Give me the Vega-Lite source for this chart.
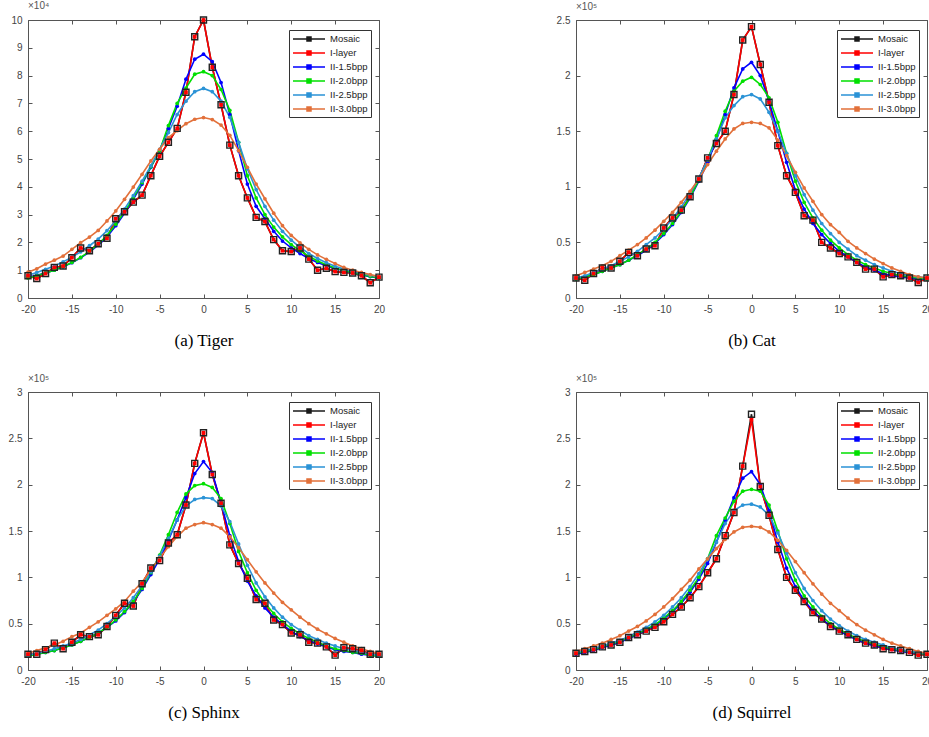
{
"$schema":"https://vega.github.io/schema/vega-lite/v6.json",
"padding":{"left":7,"top":0,"right":0,"bottom":0},
"bounds":"flush",
"columns":2,
"spacing":{"column":197,"row":94},
"datasets":{"d":[
{"p":"a","x":-20,"M":0.8,"I":0.8,"B15":0.75,"B20":0.72,"B25":0.82,"B30":0.93},
{"p":"a","x":-19,"M":0.7,"I":0.7,"B15":0.82,"B20":0.8,"B25":0.92,"B30":1.05},
{"p":"a","x":-18,"M":0.88,"I":0.88,"B15":0.9,"B20":0.9,"B25":1.03,"B30":1.22},
{"p":"a","x":-17,"M":1.1,"I":1.1,"B15":1.0,"B20":1.0,"B25":1.15,"B30":1.36},
{"p":"a","x":-16,"M":1.15,"I":1.15,"B15":1.12,"B20":1.13,"B25":1.3,"B30":1.51},
{"p":"a","x":-15,"M":1.45,"I":1.45,"B15":1.27,"B20":1.28,"B25":1.47,"B30":1.75},
{"p":"a","x":-14,"M":1.8,"I":1.8,"B15":1.45,"B20":1.46,"B25":1.66,"B30":1.99},
{"p":"a","x":-13,"M":1.7,"I":1.7,"B15":1.65,"B20":1.68,"B25":1.88,"B30":2.19},
{"p":"a","x":-12,"M":1.95,"I":1.95,"B15":1.9,"B20":1.94,"B25":2.12,"B30":2.43},
{"p":"a","x":-11,"M":2.15,"I":2.15,"B15":2.2,"B20":2.25,"B25":2.42,"B30":2.77},
{"p":"a","x":-10,"M":2.85,"I":2.85,"B15":2.6,"B20":2.65,"B25":2.78,"B30":3.13},
{"p":"a","x":-9,"M":3.1,"I":3.1,"B15":3.05,"B20":3.1,"B25":3.2,"B30":3.55},
{"p":"a","x":-8,"M":3.45,"I":3.45,"B15":3.55,"B20":3.6,"B25":3.68,"B30":3.99},
{"p":"a","x":-7,"M":3.7,"I":3.7,"B15":4.1,"B20":4.15,"B25":4.2,"B30":4.45},
{"p":"a","x":-6,"M":4.4,"I":4.4,"B15":4.7,"B20":4.72,"B25":4.75,"B30":4.93},
{"p":"a","x":-5,"M":5.1,"I":5.1,"B15":5.3,"B20":5.3,"B25":5.35,"B30":5.35},
{"p":"a","x":-4,"M":5.6,"I":5.6,"B15":6.1,"B20":6.2,"B25":5.95,"B30":5.77},
{"p":"a","x":-3,"M":6.1,"I":6.1,"B15":6.9,"B20":7.0,"B25":6.6,"B30":6.02},
{"p":"a","x":-2,"M":7.4,"I":7.4,"B15":7.87,"B20":7.55,"B25":7.08,"B30":6.27},
{"p":"a","x":-1,"M":9.4,"I":9.4,"B15":8.59,"B20":8.05,"B25":7.42,"B30":6.43},
{"p":"a","x":0,"M":10.0,"I":10.0,"B15":8.77,"B20":8.14,"B25":7.54,"B30":6.49},
{"p":"a","x":1,"M":8.3,"I":8.3,"B15":8.5,"B20":8.0,"B25":7.42,"B30":6.42},
{"p":"a","x":2,"M":6.95,"I":6.95,"B15":7.75,"B20":7.5,"B25":7.08,"B30":6.22},
{"p":"a","x":3,"M":5.5,"I":5.5,"B15":6.6,"B20":6.75,"B25":6.5,"B30":5.85},
{"p":"a","x":4,"M":4.4,"I":4.4,"B15":5.3,"B20":5.6,"B25":5.6,"B30":5.3},
{"p":"a","x":5,"M":3.6,"I":3.6,"B15":4.1,"B20":4.4,"B25":4.65,"B30":4.7},
{"p":"a","x":6,"M":2.9,"I":2.9,"B15":3.3,"B20":3.6,"B25":3.9,"B30":4.1},
{"p":"a","x":7,"M":2.75,"I":2.75,"B15":2.85,"B20":3.0,"B25":3.3,"B30":3.57},
{"p":"a","x":8,"M":2.1,"I":2.1,"B15":2.4,"B20":2.55,"B25":2.8,"B30":3.05},
{"p":"a","x":9,"M":1.7,"I":1.7,"B15":2.05,"B20":2.2,"B25":2.4,"B30":2.6},
{"p":"a","x":10,"M":1.67,"I":1.67,"B15":1.8,"B20":1.92,"B25":2.08,"B30":2.25},
{"p":"a","x":11,"M":1.8,"I":1.8,"B15":1.6,"B20":1.7,"B25":1.82,"B30":1.98},
{"p":"a","x":12,"M":1.4,"I":1.4,"B15":1.42,"B20":1.5,"B25":1.6,"B30":1.75},
{"p":"a","x":13,"M":1.0,"I":1.0,"B15":1.28,"B20":1.33,"B25":1.42,"B30":1.55},
{"p":"a","x":14,"M":1.07,"I":1.07,"B15":1.16,"B20":1.2,"B25":1.27,"B30":1.39},
{"p":"a","x":15,"M":0.95,"I":0.95,"B15":1.06,"B20":1.08,"B25":1.14,"B30":1.24},
{"p":"a","x":16,"M":0.92,"I":0.92,"B15":0.98,"B20":0.99,"B25":1.04,"B30":1.1},
{"p":"a","x":17,"M":0.9,"I":0.9,"B15":0.9,"B20":0.91,"B25":0.95,"B30":1.0},
{"p":"a","x":18,"M":0.8,"I":0.8,"B15":0.83,"B20":0.84,"B25":0.88,"B30":0.92},
{"p":"a","x":19,"M":0.55,"I":0.55,"B15":0.77,"B20":0.78,"B25":0.82,"B30":0.84},
{"p":"a","x":20,"M":0.75,"I":0.75,"B15":0.72,"B20":0.72,"B25":0.76,"B30":0.77},
{"p":"b","x":-20,"M":0.18,"I":0.18,"B15":0.17,"B20":0.17,"B25":0.18,"B30":0.2},
{"p":"b","x":-19,"M":0.16,"I":0.16,"B15":0.19,"B20":0.19,"B25":0.2,"B30":0.23},
{"p":"b","x":-18,"M":0.22,"I":0.22,"B15":0.21,"B20":0.21,"B25":0.23,"B30":0.26},
{"p":"b","x":-17,"M":0.27,"I":0.27,"B15":0.24,"B20":0.24,"B25":0.26,"B30":0.29},
{"p":"b","x":-16,"M":0.27,"I":0.27,"B15":0.27,"B20":0.27,"B25":0.29,"B30":0.33},
{"p":"b","x":-15,"M":0.33,"I":0.33,"B15":0.3,"B20":0.3,"B25":0.33,"B30":0.38},
{"p":"b","x":-14,"M":0.41,"I":0.41,"B15":0.34,"B20":0.34,"B25":0.37,"B30":0.43},
{"p":"b","x":-13,"M":0.38,"I":0.38,"B15":0.38,"B20":0.39,"B25":0.42,"B30":0.48},
{"p":"b","x":-12,"M":0.44,"I":0.44,"B15":0.43,"B20":0.44,"B25":0.48,"B30":0.54},
{"p":"b","x":-11,"M":0.47,"I":0.47,"B15":0.49,"B20":0.5,"B25":0.54,"B30":0.61},
{"p":"b","x":-10,"M":0.63,"I":0.63,"B15":0.57,"B20":0.58,"B25":0.62,"B30":0.69},
{"p":"b","x":-9,"M":0.72,"I":0.72,"B15":0.66,"B20":0.67,"B25":0.71,"B30":0.77},
{"p":"b","x":-8,"M":0.79,"I":0.79,"B15":0.77,"B20":0.78,"B25":0.82,"B30":0.86},
{"p":"b","x":-7,"M":0.91,"I":0.91,"B15":0.9,"B20":0.91,"B25":0.94,"B30":0.96},
{"p":"b","x":-6,"M":1.07,"I":1.07,"B15":1.05,"B20":1.06,"B25":1.08,"B30":1.07},
{"p":"b","x":-5,"M":1.26,"I":1.26,"B15":1.22,"B20":1.24,"B25":1.24,"B30":1.2},
{"p":"b","x":-4,"M":1.39,"I":1.39,"B15":1.42,"B20":1.46,"B25":1.43,"B30":1.32},
{"p":"b","x":-3,"M":1.5,"I":1.5,"B15":1.65,"B20":1.68,"B25":1.62,"B30":1.43},
{"p":"b","x":-2,"M":1.83,"I":1.83,"B15":1.89,"B20":1.86,"B25":1.73,"B30":1.52},
{"p":"b","x":-1,"M":2.32,"I":2.32,"B15":2.06,"B20":1.95,"B25":1.81,"B30":1.57},
{"p":"b","x":0,"M":2.44,"I":2.44,"B15":2.12,"B20":1.985,"B25":1.83,"B30":1.58},
{"p":"b","x":1,"M":2.1,"I":2.1,"B15":2.0,"B20":1.92,"B25":1.79,"B30":1.57},
{"p":"b","x":2,"M":1.76,"I":1.76,"B15":1.77,"B20":1.8,"B25":1.67,"B30":1.53},
{"p":"b","x":3,"M":1.37,"I":1.37,"B15":1.5,"B20":1.58,"B25":1.5,"B30":1.42},
{"p":"b","x":4,"M":1.1,"I":1.1,"B15":1.22,"B20":1.3,"B25":1.3,"B30":1.28},
{"p":"b","x":5,"M":0.95,"I":0.95,"B15":0.97,"B20":1.05,"B25":1.1,"B30":1.13},
{"p":"b","x":6,"M":0.74,"I":0.74,"B15":0.8,"B20":0.86,"B25":0.93,"B30":0.99},
{"p":"b","x":7,"M":0.7,"I":0.7,"B15":0.67,"B20":0.72,"B25":0.79,"B30":0.87},
{"p":"b","x":8,"M":0.5,"I":0.5,"B15":0.57,"B20":0.61,"B25":0.67,"B30":0.75},
{"p":"b","x":9,"M":0.45,"I":0.45,"B15":0.49,"B20":0.52,"B25":0.58,"B30":0.66},
{"p":"b","x":10,"M":0.4,"I":0.4,"B15":0.42,"B20":0.45,"B25":0.5,"B30":0.59},
{"p":"b","x":11,"M":0.37,"I":0.37,"B15":0.37,"B20":0.39,"B25":0.44,"B30":0.51},
{"p":"b","x":12,"M":0.32,"I":0.32,"B15":0.32,"B20":0.34,"B25":0.38,"B30":0.45},
{"p":"b","x":13,"M":0.26,"I":0.26,"B15":0.28,"B20":0.3,"B25":0.34,"B30":0.4},
{"p":"b","x":14,"M":0.26,"I":0.26,"B15":0.25,"B20":0.27,"B25":0.3,"B30":0.35},
{"p":"b","x":15,"M":0.19,"I":0.19,"B15":0.22,"B20":0.24,"B25":0.27,"B30":0.31},
{"p":"b","x":16,"M":0.21,"I":0.21,"B15":0.2,"B20":0.22,"B25":0.24,"B30":0.27},
{"p":"b","x":17,"M":0.2,"I":0.2,"B15":0.19,"B20":0.2,"B25":0.22,"B30":0.24},
{"p":"b","x":18,"M":0.18,"I":0.18,"B15":0.18,"B20":0.19,"B25":0.2,"B30":0.21},
{"p":"b","x":19,"M":0.14,"I":0.14,"B15":0.17,"B20":0.18,"B25":0.19,"B30":0.19},
{"p":"b","x":20,"M":0.18,"I":0.18,"B15":0.17,"B20":0.17,"B25":0.18,"B30":0.18},
{"p":"c","x":-20,"M":0.17,"I":0.17,"B15":0.15,"B20":0.15,"B25":0.16,"B30":0.18},
{"p":"c","x":-19,"M":0.17,"I":0.17,"B15":0.17,"B20":0.17,"B25":0.18,"B30":0.21},
{"p":"c","x":-18,"M":0.22,"I":0.22,"B15":0.19,"B20":0.19,"B25":0.2,"B30":0.24},
{"p":"c","x":-17,"M":0.29,"I":0.29,"B15":0.21,"B20":0.21,"B25":0.23,"B30":0.27},
{"p":"c","x":-16,"M":0.23,"I":0.23,"B15":0.24,"B20":0.24,"B25":0.26,"B30":0.31},
{"p":"c","x":-15,"M":0.3,"I":0.3,"B15":0.27,"B20":0.27,"B25":0.29,"B30":0.36},
{"p":"c","x":-14,"M":0.38,"I":0.38,"B15":0.31,"B20":0.31,"B25":0.33,"B30":0.4},
{"p":"c","x":-13,"M":0.36,"I":0.36,"B15":0.35,"B20":0.35,"B25":0.38,"B30":0.46},
{"p":"c","x":-12,"M":0.38,"I":0.38,"B15":0.4,"B20":0.4,"B25":0.43,"B30":0.52},
{"p":"c","x":-11,"M":0.47,"I":0.47,"B15":0.46,"B20":0.46,"B25":0.5,"B30":0.59},
{"p":"c","x":-10,"M":0.59,"I":0.59,"B15":0.53,"B20":0.54,"B25":0.58,"B30":0.66},
{"p":"c","x":-9,"M":0.72,"I":0.72,"B15":0.62,"B20":0.63,"B25":0.67,"B30":0.74},
{"p":"c","x":-8,"M":0.69,"I":0.69,"B15":0.73,"B20":0.74,"B25":0.78,"B30":0.85},
{"p":"c","x":-7,"M":0.93,"I":0.93,"B15":0.87,"B20":0.88,"B25":0.91,"B30":0.95},
{"p":"c","x":-6,"M":1.1,"I":1.1,"B15":1.03,"B20":1.05,"B25":1.06,"B30":1.08},
{"p":"c","x":-5,"M":1.18,"I":1.18,"B15":1.2,"B20":1.24,"B25":1.23,"B30":1.21},
{"p":"c","x":-4,"M":1.37,"I":1.37,"B15":1.4,"B20":1.46,"B25":1.42,"B30":1.33},
{"p":"c","x":-3,"M":1.46,"I":1.46,"B15":1.62,"B20":1.7,"B25":1.62,"B30":1.44},
{"p":"c","x":-2,"M":1.78,"I":1.78,"B15":1.86,"B20":1.9,"B25":1.77,"B30":1.53},
{"p":"c","x":-1,"M":2.23,"I":2.23,"B15":2.12,"B20":1.99,"B25":1.84,"B30":1.57},
{"p":"c","x":0,"M":2.56,"I":2.56,"B15":2.25,"B20":2.01,"B25":1.86,"B30":1.59},
{"p":"c","x":1,"M":2.11,"I":2.11,"B15":2.13,"B20":1.97,"B25":1.85,"B30":1.57},
{"p":"c","x":2,"M":1.8,"I":1.8,"B15":1.8,"B20":1.85,"B25":1.77,"B30":1.53},
{"p":"c","x":3,"M":1.35,"I":1.35,"B15":1.45,"B20":1.58,"B25":1.6,"B30":1.44},
{"p":"c","x":4,"M":1.15,"I":1.15,"B15":1.17,"B20":1.28,"B25":1.36,"B30":1.32},
{"p":"c","x":5,"M":0.99,"I":0.99,"B15":0.96,"B20":1.05,"B25":1.13,"B30":1.19},
{"p":"c","x":6,"M":0.76,"I":0.76,"B15":0.8,"B20":0.86,"B25":0.94,"B30":1.06},
{"p":"c","x":7,"M":0.72,"I":0.72,"B15":0.67,"B20":0.72,"B25":0.79,"B30":0.94},
{"p":"c","x":8,"M":0.54,"I":0.54,"B15":0.57,"B20":0.61,"B25":0.67,"B30":0.83},
{"p":"c","x":9,"M":0.49,"I":0.49,"B15":0.49,"B20":0.52,"B25":0.57,"B30":0.73},
{"p":"c","x":10,"M":0.4,"I":0.4,"B15":0.42,"B20":0.45,"B25":0.49,"B30":0.65},
{"p":"c","x":11,"M":0.38,"I":0.38,"B15":0.36,"B20":0.39,"B25":0.43,"B30":0.57},
{"p":"c","x":12,"M":0.3,"I":0.3,"B15":0.32,"B20":0.34,"B25":0.37,"B30":0.5},
{"p":"c","x":13,"M":0.29,"I":0.29,"B15":0.28,"B20":0.3,"B25":0.33,"B30":0.44},
{"p":"c","x":14,"M":0.25,"I":0.25,"B15":0.25,"B20":0.26,"B25":0.29,"B30":0.39},
{"p":"c","x":15,"M":0.16,"I":0.16,"B15":0.22,"B20":0.23,"B25":0.26,"B30":0.34},
{"p":"c","x":16,"M":0.24,"I":0.24,"B15":0.2,"B20":0.21,"B25":0.23,"B30":0.3},
{"p":"c","x":17,"M":0.23,"I":0.23,"B15":0.19,"B20":0.19,"B25":0.21,"B30":0.26},
{"p":"c","x":18,"M":0.21,"I":0.21,"B15":0.17,"B20":0.18,"B25":0.19,"B30":0.23},
{"p":"c","x":19,"M":0.17,"I":0.17,"B15":0.16,"B20":0.16,"B25":0.17,"B30":0.2},
{"p":"c","x":20,"M":0.17,"I":0.17,"B15":0.15,"B20":0.15,"B25":0.16,"B30":0.18},
{"p":"d","x":-20,"M":0.18,"I":0.18,"B15":0.17,"B20":0.18,"B25":0.19,"B30":0.2},
{"p":"d","x":-19,"M":0.2,"I":0.2,"B15":0.19,"B20":0.2,"B25":0.21,"B30":0.23},
{"p":"d","x":-18,"M":0.22,"I":0.22,"B15":0.21,"B20":0.22,"B25":0.23,"B30":0.26},
{"p":"d","x":-17,"M":0.25,"I":0.25,"B15":0.24,"B20":0.25,"B25":0.26,"B30":0.29},
{"p":"d","x":-16,"M":0.27,"I":0.27,"B15":0.27,"B20":0.28,"B25":0.29,"B30":0.33},
{"p":"d","x":-15,"M":0.3,"I":0.3,"B15":0.3,"B20":0.31,"B25":0.32,"B30":0.37},
{"p":"d","x":-14,"M":0.35,"I":0.35,"B15":0.34,"B20":0.35,"B25":0.36,"B30":0.42},
{"p":"d","x":-13,"M":0.38,"I":0.38,"B15":0.38,"B20":0.39,"B25":0.41,"B30":0.47},
{"p":"d","x":-12,"M":0.42,"I":0.42,"B15":0.43,"B20":0.44,"B25":0.46,"B30":0.53},
{"p":"d","x":-11,"M":0.46,"I":0.46,"B15":0.48,"B20":0.49,"B25":0.52,"B30":0.6},
{"p":"d","x":-10,"M":0.52,"I":0.52,"B15":0.55,"B20":0.56,"B25":0.59,"B30":0.68},
{"p":"d","x":-9,"M":0.6,"I":0.6,"B15":0.63,"B20":0.64,"B25":0.68,"B30":0.77},
{"p":"d","x":-8,"M":0.68,"I":0.68,"B15":0.72,"B20":0.74,"B25":0.78,"B30":0.87},
{"p":"d","x":-7,"M":0.78,"I":0.78,"B15":0.84,"B20":0.86,"B25":0.9,"B30":0.97},
{"p":"d","x":-6,"M":0.9,"I":0.9,"B15":0.98,"B20":1.0,"B25":1.04,"B30":1.09},
{"p":"d","x":-5,"M":1.05,"I":1.05,"B15":1.15,"B20":1.2,"B25":1.2,"B30":1.2},
{"p":"d","x":-4,"M":1.2,"I":1.2,"B15":1.38,"B20":1.45,"B25":1.38,"B30":1.31},
{"p":"d","x":-3,"M":1.45,"I":1.45,"B15":1.62,"B20":1.64,"B25":1.58,"B30":1.41},
{"p":"d","x":-2,"M":1.7,"I":1.7,"B15":1.86,"B20":1.82,"B25":1.72,"B30":1.49},
{"p":"d","x":-1,"M":2.2,"I":2.2,"B15":2.07,"B20":1.93,"B25":1.78,"B30":1.54},
{"p":"d","x":0,"M":2.76,"I":2.7,"B15":2.14,"B20":1.95,"B25":1.79,"B30":1.55},
{"p":"d","x":1,"M":1.98,"I":1.98,"B15":2.0,"B20":1.93,"B25":1.76,"B30":1.54},
{"p":"d","x":2,"M":1.67,"I":1.67,"B15":1.72,"B20":1.78,"B25":1.67,"B30":1.49},
{"p":"d","x":3,"M":1.3,"I":1.3,"B15":1.38,"B20":1.5,"B25":1.48,"B30":1.4},
{"p":"d","x":4,"M":1.0,"I":1.0,"B15":1.1,"B20":1.2,"B25":1.26,"B30":1.29},
{"p":"d","x":5,"M":0.86,"I":0.86,"B15":0.9,"B20":0.97,"B25":1.05,"B30":1.17},
{"p":"d","x":6,"M":0.74,"I":0.74,"B15":0.75,"B20":0.8,"B25":0.88,"B30":1.05},
{"p":"d","x":7,"M":0.62,"I":0.62,"B15":0.64,"B20":0.68,"B25":0.75,"B30":0.93},
{"p":"d","x":8,"M":0.55,"I":0.55,"B15":0.55,"B20":0.58,"B25":0.64,"B30":0.82},
{"p":"d","x":9,"M":0.47,"I":0.47,"B15":0.48,"B20":0.5,"B25":0.55,"B30":0.72},
{"p":"d","x":10,"M":0.42,"I":0.42,"B15":0.42,"B20":0.44,"B25":0.48,"B30":0.64},
{"p":"d","x":11,"M":0.38,"I":0.38,"B15":0.37,"B20":0.39,"B25":0.42,"B30":0.56},
{"p":"d","x":12,"M":0.33,"I":0.33,"B15":0.33,"B20":0.34,"B25":0.37,"B30":0.49},
{"p":"d","x":13,"M":0.29,"I":0.29,"B15":0.29,"B20":0.31,"B25":0.33,"B30":0.43},
{"p":"d","x":14,"M":0.27,"I":0.27,"B15":0.26,"B20":0.28,"B25":0.3,"B30":0.38},
{"p":"d","x":15,"M":0.23,"I":0.23,"B15":0.24,"B20":0.25,"B25":0.27,"B30":0.33},
{"p":"d","x":16,"M":0.22,"I":0.22,"B15":0.22,"B20":0.23,"B25":0.24,"B30":0.29},
{"p":"d","x":17,"M":0.21,"I":0.21,"B15":0.2,"B20":0.21,"B25":0.22,"B30":0.26},
{"p":"d","x":18,"M":0.19,"I":0.19,"B15":0.19,"B20":0.2,"B25":0.2,"B30":0.23},
{"p":"d","x":19,"M":0.16,"I":0.16,"B15":0.18,"B20":0.18,"B25":0.19,"B30":0.2},
{"p":"d","x":20,"M":0.17,"I":0.17,"B15":0.17,"B20":0.17,"B25":0.18,"B30":0.18}
]},
"data":{"name":"d"},
"transform":[{"fold":["M","I","B15","B20","B25","B30"],"as":["s","v"]}],
"resolve":{"scale":{"color":"independent"},"legend":{"color":"independent"}},
"concat":[
{"width":351,"height":278,"title":{"text":"×10⁴"},
 "transform":[{"filter":"datum.p == 'a'"}],
 "resolve":{"axis":{"x":"independent","y":"independent"}},
 "layer":[
  {"mark":{"type":"line","strokeWidth":1.6},
   "encoding":{
    "x":{"field":"x","type":"quantitative","scale":{"domain":[-20,20],"nice":false},"axis":{"values":[-20,-15,-10,-5,0,5,10,15,20],"title":"(a) Tiger"}},
    "y":{"field":"v","type":"quantitative","scale":{"domain":[0,10],"nice":false},"axis":{"values":[0,1,2,3,4,5,6,7,8,9,10],"title":null}},
    "color":{"field":"s","type":"nominal","scale":{"domain":["M","I","B15","B20","B25","B30"],"range":["#1a1a1a","#ff0000","#0000ff","#00e000","#2b93d6","#e2703a"]},"legend":{"title":null,"labelExpr":"datum.label == 'M' ? 'Mosaic' : datum.label == 'I' ? 'I-layer' : datum.label == 'B15' ? 'II-1.5bpp' : datum.label == 'B20' ? 'II-2.0bpp' : datum.label == 'B25' ? 'II-2.5bpp' : 'II-3.0bpp'"}}}},
  {"transform":[{"filter":"datum.s != 'M' && datum.s != 'I'"}],
   "mark":{"type":"point","filled":true,"size":14,"opacity":1},
   "encoding":{"x":{"field":"x","type":"quantitative","axis":null},"y":{"field":"v","type":"quantitative","axis":null},"color":{"field":"s","type":"nominal","legend":null}}},
  {"transform":[{"filter":"datum.s == 'M'"}],
   "mark":{"type":"point","shape":"square","filled":false,"size":36,"stroke":"#222","strokeWidth":1.4,"opacity":1},
   "encoding":{"x":{"field":"x","type":"quantitative","axis":{"orient":"top","labels":false,"title":null,"values":[-20,-15,-10,-5,0,5,10,15,20]}},"y":{"field":"v","type":"quantitative","axis":{"orient":"right","labels":false,"title":null,"values":[0,1,2,3,4,5,6,7,8,9,10]}}}},
  {"transform":[{"filter":"datum.s == 'I'"}],
   "mark":{"type":"square","color":"#ff0000","size":14,"opacity":1},
   "encoding":{"x":{"field":"x","type":"quantitative","axis":null},"y":{"field":"v","type":"quantitative","axis":null}}}
 ]},
{"width":351,"height":278,"title":{"text":"×10⁵"},
 "transform":[{"filter":"datum.p == 'b'"}],
 "resolve":{"axis":{"x":"independent","y":"independent"}},
 "layer":[
  {"mark":{"type":"line","strokeWidth":1.6},
   "encoding":{
    "x":{"field":"x","type":"quantitative","scale":{"domain":[-20,20],"nice":false},"axis":{"values":[-20,-15,-10,-5,0,5,10,15,20],"title":"(b) Cat"}},
    "y":{"field":"v","type":"quantitative","scale":{"domain":[0,2.5],"nice":false},"axis":{"values":[0,0.5,1,1.5,2,2.5],"title":null}},
    "color":{"field":"s","type":"nominal","scale":{"domain":["M","I","B15","B20","B25","B30"],"range":["#1a1a1a","#ff0000","#0000ff","#00e000","#2b93d6","#e2703a"]},"legend":{"title":null,"labelExpr":"datum.label == 'M' ? 'Mosaic' : datum.label == 'I' ? 'I-layer' : datum.label == 'B15' ? 'II-1.5bpp' : datum.label == 'B20' ? 'II-2.0bpp' : datum.label == 'B25' ? 'II-2.5bpp' : 'II-3.0bpp'"}}}},
  {"transform":[{"filter":"datum.s != 'M' && datum.s != 'I'"}],
   "mark":{"type":"point","filled":true,"size":14,"opacity":1},
   "encoding":{"x":{"field":"x","type":"quantitative","axis":null},"y":{"field":"v","type":"quantitative","axis":null},"color":{"field":"s","type":"nominal","legend":null}}},
  {"transform":[{"filter":"datum.s == 'M'"}],
   "mark":{"type":"point","shape":"square","filled":false,"size":36,"stroke":"#222","strokeWidth":1.4,"opacity":1},
   "encoding":{"x":{"field":"x","type":"quantitative","axis":{"orient":"top","labels":false,"title":null,"values":[-20,-15,-10,-5,0,5,10,15,20]}},"y":{"field":"v","type":"quantitative","axis":{"orient":"right","labels":false,"title":null,"values":[0,0.5,1,1.5,2,2.5]}}}},
  {"transform":[{"filter":"datum.s == 'I'"}],
   "mark":{"type":"square","color":"#ff0000","size":14,"opacity":1},
   "encoding":{"x":{"field":"x","type":"quantitative","axis":null},"y":{"field":"v","type":"quantitative","axis":null}}}
 ]},
{"width":351,"height":278,"title":{"text":"×10⁵"},
 "transform":[{"filter":"datum.p == 'c'"}],
 "resolve":{"axis":{"x":"independent","y":"independent"}},
 "layer":[
  {"mark":{"type":"line","strokeWidth":1.6},
   "encoding":{
    "x":{"field":"x","type":"quantitative","scale":{"domain":[-20,20],"nice":false},"axis":{"values":[-20,-15,-10,-5,0,5,10,15,20],"title":"(c) Sphinx"}},
    "y":{"field":"v","type":"quantitative","scale":{"domain":[0,3],"nice":false},"axis":{"values":[0,0.5,1,1.5,2,2.5,3],"title":null}},
    "color":{"field":"s","type":"nominal","scale":{"domain":["M","I","B15","B20","B25","B30"],"range":["#1a1a1a","#ff0000","#0000ff","#00e000","#2b93d6","#e2703a"]},"legend":{"title":null,"labelExpr":"datum.label == 'M' ? 'Mosaic' : datum.label == 'I' ? 'I-layer' : datum.label == 'B15' ? 'II-1.5bpp' : datum.label == 'B20' ? 'II-2.0bpp' : datum.label == 'B25' ? 'II-2.5bpp' : 'II-3.0bpp'"}}}},
  {"transform":[{"filter":"datum.s != 'M' && datum.s != 'I'"}],
   "mark":{"type":"point","filled":true,"size":14,"opacity":1},
   "encoding":{"x":{"field":"x","type":"quantitative","axis":null},"y":{"field":"v","type":"quantitative","axis":null},"color":{"field":"s","type":"nominal","legend":null}}},
  {"transform":[{"filter":"datum.s == 'M'"}],
   "mark":{"type":"point","shape":"square","filled":false,"size":36,"stroke":"#222","strokeWidth":1.4,"opacity":1},
   "encoding":{"x":{"field":"x","type":"quantitative","axis":{"orient":"top","labels":false,"title":null,"values":[-20,-15,-10,-5,0,5,10,15,20]}},"y":{"field":"v","type":"quantitative","axis":{"orient":"right","labels":false,"title":null,"values":[0,0.5,1,1.5,2,2.5,3]}}}},
  {"transform":[{"filter":"datum.s == 'I'"}],
   "mark":{"type":"square","color":"#ff0000","size":14,"opacity":1},
   "encoding":{"x":{"field":"x","type":"quantitative","axis":null},"y":{"field":"v","type":"quantitative","axis":null}}}
 ]},
{"width":351,"height":278,"title":{"text":"×10⁵"},
 "transform":[{"filter":"datum.p == 'd'"}],
 "resolve":{"axis":{"x":"independent","y":"independent"}},
 "layer":[
  {"mark":{"type":"line","strokeWidth":1.6},
   "encoding":{
    "x":{"field":"x","type":"quantitative","scale":{"domain":[-20,20],"nice":false},"axis":{"values":[-20,-15,-10,-5,0,5,10,15,20],"title":"(d) Squirrel"}},
    "y":{"field":"v","type":"quantitative","scale":{"domain":[0,3],"nice":false},"axis":{"values":[0,0.5,1,1.5,2,2.5,3],"title":null}},
    "color":{"field":"s","type":"nominal","scale":{"domain":["M","I","B15","B20","B25","B30"],"range":["#1a1a1a","#ff0000","#0000ff","#00e000","#2b93d6","#e2703a"]},"legend":{"title":null,"labelExpr":"datum.label == 'M' ? 'Mosaic' : datum.label == 'I' ? 'I-layer' : datum.label == 'B15' ? 'II-1.5bpp' : datum.label == 'B20' ? 'II-2.0bpp' : datum.label == 'B25' ? 'II-2.5bpp' : 'II-3.0bpp'"}}}},
  {"transform":[{"filter":"datum.s != 'M' && datum.s != 'I'"}],
   "mark":{"type":"point","filled":true,"size":14,"opacity":1},
   "encoding":{"x":{"field":"x","type":"quantitative","axis":null},"y":{"field":"v","type":"quantitative","axis":null},"color":{"field":"s","type":"nominal","legend":null}}},
  {"transform":[{"filter":"datum.s == 'M'"}],
   "mark":{"type":"point","shape":"square","filled":false,"size":36,"stroke":"#222","strokeWidth":1.4,"opacity":1},
   "encoding":{"x":{"field":"x","type":"quantitative","axis":{"orient":"top","labels":false,"title":null,"values":[-20,-15,-10,-5,0,5,10,15,20]}},"y":{"field":"v","type":"quantitative","axis":{"orient":"right","labels":false,"title":null,"values":[0,0.5,1,1.5,2,2.5,3]}}}},
  {"transform":[{"filter":"datum.s == 'I'"}],
   "mark":{"type":"square","color":"#ff0000","size":14,"opacity":1},
   "encoding":{"x":{"field":"x","type":"quantitative","axis":null},"y":{"field":"v","type":"quantitative","axis":null}}}
 ]}
],
"config":{
 "view":{"stroke":"#555","strokeWidth":1},
 "axis":{"grid":false,"domain":false,"tickSize":-4,"tickColor":"#555","tickWidth":1,"labelFont":"Liberation Sans","labelFontSize":10,"labelColor":"#444","labelPadding":10,"format":"~r","labelExpr":"replace(datum.label, '−', '-')","labelFlush":false,"titleFont":"Liberation Serif","titleFontSize":17,"titleFontWeight":"normal","titleColor":"#000","titlePadding":18},
 "title":{"anchor":"start","frame":"group","font":"Liberation Sans","fontSize":10,"fontWeight":"normal","color":"#555","offset":3},
 "legend":{"orient":"none","legendX":261,"legendY":10,"strokeColor":"#333","fillColor":"#ffffff","padding":3,"cornerRadius":0,"symbolType":"M-1,0H5.4M1.8,-0.4H2.6V0.4H1.8Z","symbolSize":100,"symbolStrokeWidth":1.5,"labelFont":"Liberation Sans","labelFontSize":9.5,"labelColor":"#222","labelOffset":26,"rowPadding":3}
}
}
